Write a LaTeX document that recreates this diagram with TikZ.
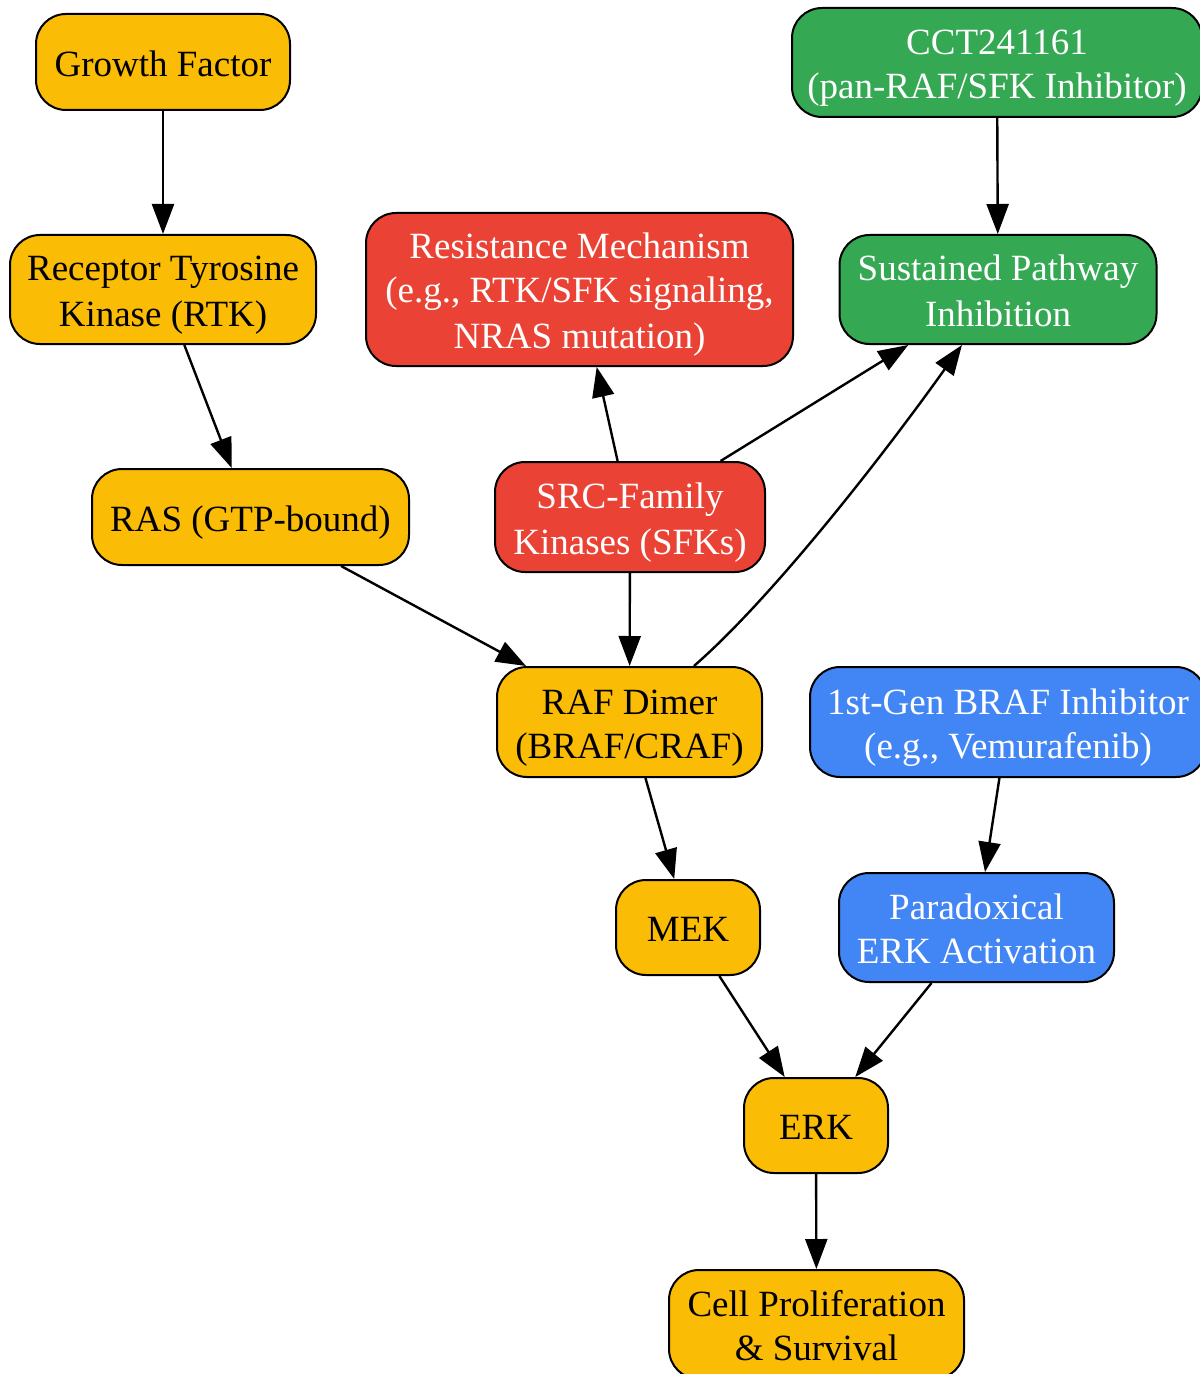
\documentclass[tikz,border=0pt]{standalone}
\usepackage{fontspec}
\setmainfont{Liberation Serif}
\usetikzlibrary{arrows.meta}
\definecolor{gyel}{HTML}{FBBC05}
\definecolor{gred}{HTML}{EA4335}
\definecolor{ggreen}{HTML}{34A853}
\definecolor{gblue}{HTML}{4285F4}
\newcommand{\sr}{\rule[-3.9pt]{0pt}{22pt}}
\begin{document}
\begin{tikzpicture}[x=0.5pt,y=-0.5pt,
  box/.style={draw=black, line width=1pt, rounded corners=15pt, align=center, inner sep=0pt,
    font=\fontsize{18.5}{22}\selectfont},
  yel/.style={box, fill=gyel, text=black},
  red/.style={box, fill=gred, text=white},
  grn/.style={box, fill=ggreen, text=white},
  blu/.style={box, fill=gblue, text=white},
  arr/.style={-{Triangle[length=15pt,width=11pt]}, line width=1.2pt}]
\useasboundingbox (0,0) rectangle (1199,1374);

\node[yel, minimum width=127pt, minimum height=48pt] (gf) at (163,62) {\sr Growth Factor};
\node[yel, minimum width=153pt, minimum height=54.5pt] (rtk) at (163,289.5) {\sr Receptor Tyrosine\\\sr Kinase (RTK)};
\node[yel, minimum width=158.5pt, minimum height=48pt] (ras) at (250.5,517) {\sr RAS (GTP-bound)};
\node[red, minimum width=213.5pt, minimum height=76.5pt] (res) at (579.5,289.5) {\sr Resistance Mechanism\\\sr (e.g., RTK/SFK signaling,\\\sr NRAS mutation)};
\node[red, minimum width=135pt, minimum height=55pt] (sfk) at (630,517) {\sr SRC-Family\\\sr Kinases (SFKs)};
\node[grn, minimum width=205pt, minimum height=54.5pt] (cct) at (997,62.5) {\sr CCT241161\\\sr (pan-RAF/SFK Inhibitor)};
\node[grn, minimum width=158.5pt, minimum height=54.5pt] (sus) at (998,289.5) {\sr Sustained Pathway\\\sr Inhibition};
\node[yel, minimum width=132.5pt, minimum height=55pt] (raf) at (629.5,722) {\sr RAF Dimer\\\sr (BRAF/CRAF)};
\node[blu, minimum width=198pt, minimum height=55pt] (gen) at (1008,722) {\sr 1st-Gen BRAF Inhibitor\\\sr (e.g., Vemurafenib)};
\node[yel, minimum width=72pt, minimum height=47.5pt] (mek) at (688,927.5) {\sr MEK};
\node[blu, minimum width=137.5pt, minimum height=54.5pt] (par) at (976.5,927.5) {\sr Paradoxical\\\sr ERK Activation};
\node[yel, minimum width=72pt, minimum height=47.5pt] (erk) at (816,1125.5) {\sr ERK};
\node[yel, minimum width=147.5pt, minimum height=54.5pt] (cell) at (816.5,1324.5) {\sr Cell Proliferation\\\sr \& Survival};

\draw[arr] (gf) -- (rtk);
\draw[arr] (rtk) -- (ras);
\draw[arr] (ras) -- (raf);
\draw[arr] (sfk) -- (res);
\draw[arr] (sfk) -- (sus);
\draw[arr] (sfk) -- (raf);
\draw[arr] (raf.41) .. controls (770,600) and (880,460) .. (sus.237);
\draw[arr] (cct) -- (sus);
\draw[arr] (raf) -- (mek);
\draw[arr] (gen) -- (par);
\draw[arr] (mek) -- (erk);
\draw[arr] (par) -- (erk);
\draw[arr] (erk) -- (cell);
\end{tikzpicture}
\end{document}
